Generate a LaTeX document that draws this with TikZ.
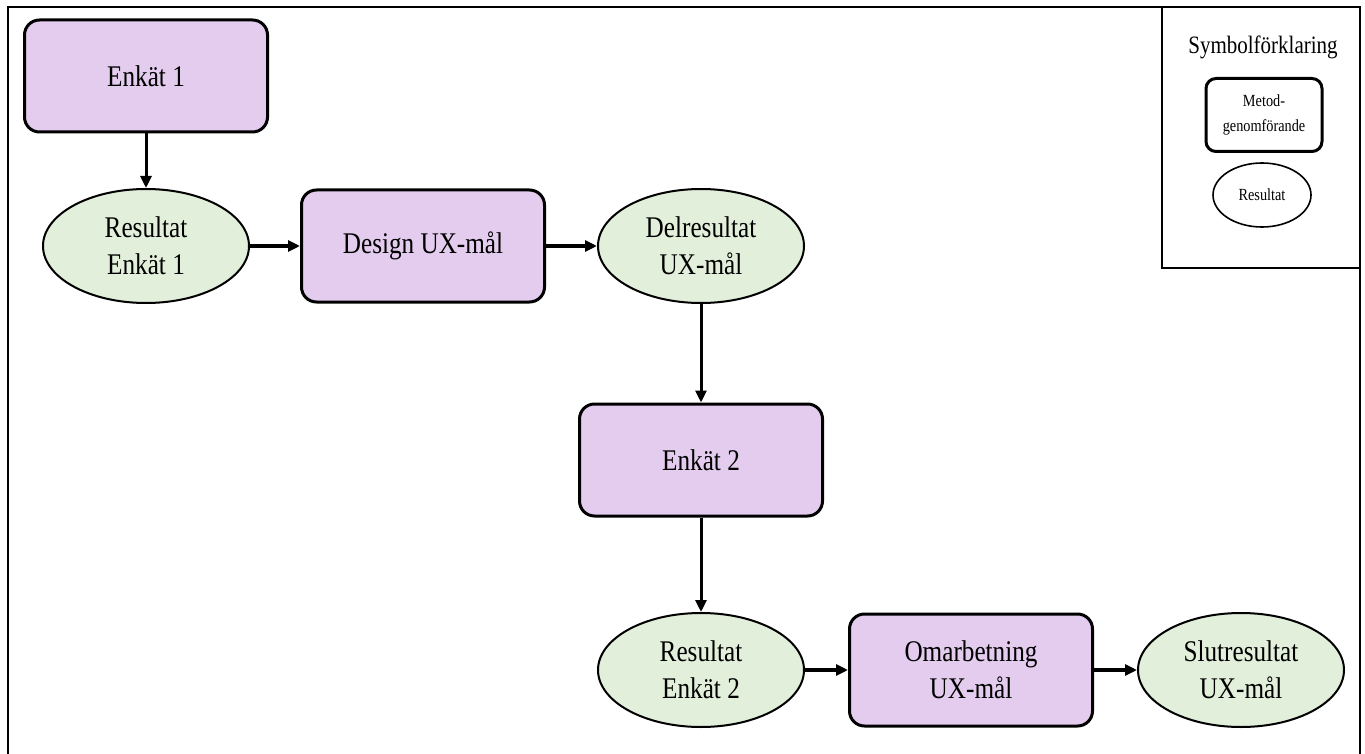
\documentclass[tikz,border=0pt]{standalone}
\usepackage{fontspec}
\setmainfont{Liberation Serif}[FakeStretch=0.84]
\usetikzlibrary{shapes.geometric,arrows.meta}

\definecolor{methodfill}{HTML}{E3CCEE}
\definecolor{resultfill}{HTML}{E2EFDA}

\tikzset{
  methodbox/.style={draw=black, fill=methodfill, rounded corners=15pt,
    line width=3pt, minimum width=243pt, minimum height=112pt,
    align=center, font=\fontsize{30}{37}\selectfont, inner sep=2pt},
  resultnode/.style={draw=black, fill=resultfill, ellipse, line width=2pt,
    minimum width=206pt, minimum height=114pt, inner sep=0pt,
    align=center, font=\fontsize{30}{37}\selectfont},
  flow/.style={line width=3pt, -{Triangle[length=12pt,width=11pt]}},
  flowthick/.style={line width=4pt, -{Triangle[length=12pt,width=11pt]}},
  legendbox/.style={draw=black, rounded corners=10pt, line width=3pt,
    minimum width=116pt, minimum height=73pt, align=center,
    font=\fontsize{17}{25}\selectfont},
  legendellipse/.style={draw=black, ellipse, line width=1.6pt,
    minimum width=98pt, minimum height=64pt, inner sep=0pt,
    font=\fontsize{17}{20}\selectfont},
}

\begin{document}
\begin{tikzpicture}[x=1pt, y=-1pt]
  \useasboundingbox (0,0) rectangle (1365,754);
  \fill[white] (0,0) rectangle (1365,754);

  % frame
  \draw[line width=2pt] (8,770) -- (8,7) -- (1360,7) -- (1360,770);

  % legend panel
  \draw[line width=1.5pt] (1162,7) -- (1162,268) -- (1360,268);
  \node[font=\fontsize{25}{30}\selectfont] (legtitle) at (1263,47) {Symbolförklaring};
  \node[legendbox] (legmethod) at (1264,115) {Metod-\\genomförande};
  \node[legendellipse] (legresult) at (1262,195) {Resultat};

  % process
  \node[methodbox] (enk1) at (146,76) {Enkät 1};
  \node[resultnode] (res1) at (146,246) {Resultat\\Enkät 1};
  \node[methodbox] (design) at (423,246) {Design UX-mål};
  \node[resultnode] (delres) at (701,246) {Delresultat\\UX-mål};
  \node[methodbox] (enk2) at (701,460) {Enkät 2};
  \node[resultnode] (res2) at (701,670) {Resultat\\Enkät 2};
  \node[methodbox] (omarb) at (971,670) {Omarbetning\\UX-mål};
  \node[resultnode] (slut) at (1241,670) {Slutresultat\\UX-mål};

  % connectors
  \draw[flow] (enk1.south) -- (res1.north);
  \draw[flowthick] (res1.east) -- (design.west);
  \draw[flowthick] (design.east) -- (delres.west);
  \draw[flow] (delres.south) -- (enk2.north);
  \draw[flow] (enk2.south) -- (res2.north);
  \draw[flowthick] (res2.east) -- (omarb.west);
  \draw[flowthick] (omarb.east) -- (slut.west);
\end{tikzpicture}
\end{document}
